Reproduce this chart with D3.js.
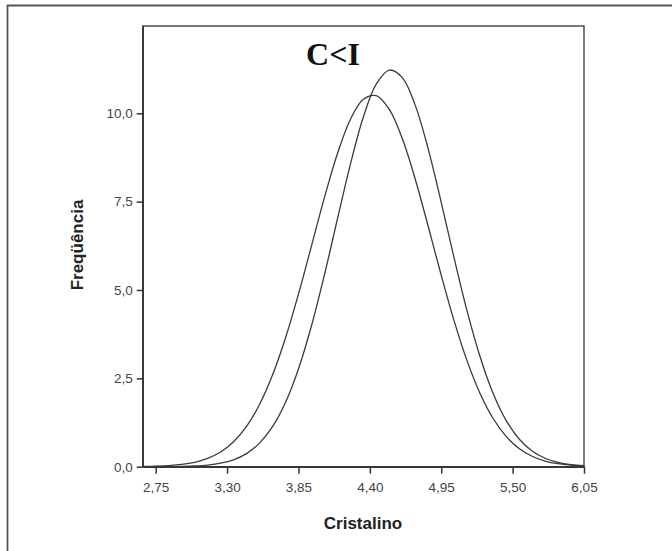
<!DOCTYPE html>
<html>
<head>
<meta charset="utf-8">
<script src="https://cdn.jsdelivr.net/npm/d3@7"></script>
<style>
  html, body { margin: 0; padding: 0; background: #fff; }
  svg { display: block; }
</style>
</head>
<body>
<svg id="chart" width="672" height="551"></svg>
<script>
// ---- data ----
const xValues = [2.65, 2.75, 2.85, 2.95, 3.05, 3.15, 3.25, 3.35, 3.45, 3.55, 3.65, 3.75, 3.85, 3.95,
  4.05, 4.15, 4.25, 4.35, 4.45, 4.55, 4.65, 4.75, 4.85, 4.95, 5.05, 5.15, 5.25, 5.35, 5.45,
  5.55, 5.65, 5.75, 5.85, 5.95, 6.05];
const curveC = [0.006, 0.014, 0.031, 0.064, 0.125, 0.233, 0.414, 0.704, 1.139, 1.759, 2.592, 3.642, 4.882, 6.243,
  7.612, 8.856, 9.826, 10.399, 10.498, 10.108, 9.284, 8.133, 6.796, 5.417, 4.119, 2.987, 2.066, 1.363, 0.858,
  0.515, 0.295, 0.161, 0.084, 0.042, 0.020];
const curveI = [0.0005, 0.0013, 0.0035, 0.0088, 0.021, 0.046, 0.098, 0.196, 0.371, 0.666, 1.131, 1.817, 2.764, 3.980,
  5.426, 7.003, 8.555, 9.893, 10.830, 11.223, 11.010, 10.224, 8.987, 7.479, 5.892, 4.393, 3.102, 2.072, 1.311,
  0.785, 0.445, 0.239, 0.121, 0.058, 0.027];
const xTicks = [2.75, 3.30, 3.85, 4.40, 4.95, 5.50, 6.05];
const yTicks = [0, 2.5, 5.0, 7.5, 10.0];
const xDomain = [2.65, 6.05];
const yDomain = [0, 12.47];
const title = "C<I";
const xLabel = "Cristalino";
const yLabel = "Freqüência";

// ---- layout ----
const svg = d3.select("#chart");
const plot = { left: 142.7, right: 584, top: 26, bottom: 466.7 };

// outer frame (only top and left edges visible in the picture)
svg.append("path").attr("d", "M7.5,551 V5.5 H672")
  .attr("fill", "none").attr("stroke", "#555").attr("stroke-width", 1.8);

const x = d3.scaleLinear().domain(xDomain).range([plot.left, plot.right]);
const y = d3.scaleLinear().domain(yDomain).range([plot.bottom, plot.top]);

// plot frame
svg.append("rect").attr("x", plot.left).attr("y", plot.top)
  .attr("width", plot.right - plot.left).attr("height", plot.bottom - plot.top)
  .attr("fill", "none").attr("stroke", "#333").attr("stroke-width", 1.3);

const fmt = d => d3.format(".2f")(d).replace(".", ",");
const fmtY = d => d3.format(".1f")(d).replace(".", ",");

const xAxis = svg.append("g").attr("transform", `translate(0,${plot.bottom})`)
  .call(d3.axisBottom(x).tickValues(xTicks).tickFormat(fmt).tickSize(7).tickSizeOuter(0));
const yAxis = svg.append("g").attr("transform", `translate(${plot.left},0)`)
  .call(d3.axisLeft(y).tickValues(yTicks).tickFormat(fmtY).tickSize(6).tickSizeOuter(0));

[xAxis, yAxis].forEach(g => {
  g.select(".domain").attr("stroke", "#333").attr("stroke-width", 1.5);
  g.selectAll(".tick line").attr("stroke", "#333").attr("stroke-width", 1.5);
  g.selectAll(".tick text").attr("fill", "#444")
    .style("font-family", "'Liberation Sans', Arial, sans-serif").style("font-size", "13.5px");
});
xAxis.selectAll(".tick text").attr("dy", "0").attr("y", 25);
yAxis.selectAll(".tick text").attr("x", -10);

// curves
const line = d3.line().x((d, i) => x(xValues[i])).y(d => y(d)).curve(d3.curveCatmullRom.alpha(0.5));
[curveC, curveI].forEach(series => {
  svg.append("path").datum(series).attr("d", line)
    .attr("fill", "none").attr("stroke", "#3a3a3a").attr("stroke-width", 1.3);
});

// title
svg.append("text").attr("x", 333).attr("y", 65).attr("text-anchor", "middle")
  .style("font-family", "'Liberation Serif', 'Times New Roman', serif")
  .style("font-weight", "bold").style("font-size", "32px").attr("fill", "#111")
  .text(title);

// axis labels
svg.append("text").attr("x", 363).attr("y", 529).attr("text-anchor", "middle")
  .style("font-family", "'Liberation Sans', Arial, sans-serif")
  .style("font-weight", "bold").style("font-size", "17px").attr("fill", "#222")
  .text(xLabel);
svg.append("text").attr("transform", "translate(83,245) rotate(-90)").attr("text-anchor", "middle")
  .style("font-family", "'Liberation Sans', Arial, sans-serif")
  .style("font-weight", "bold").style("font-size", "17px").attr("fill", "#222")
  .text(yLabel);
</script>
</body>
</html>
